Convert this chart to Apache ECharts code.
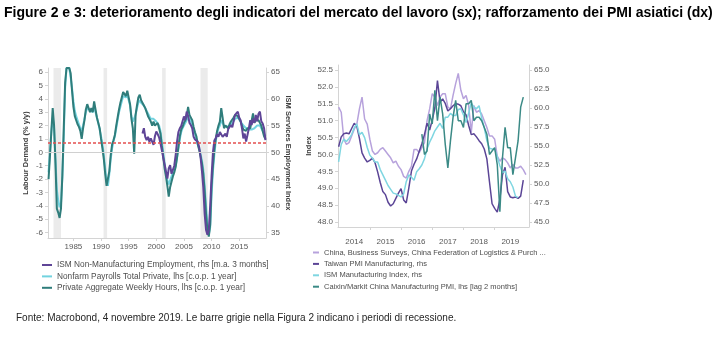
<!DOCTYPE html>
<html><head><meta charset="utf-8">
<script src="https://cdn.jsdelivr.net/npm/echarts@6/dist/echarts.min.js"></script>
<style>html,body{margin:0;padding:0;background:#fff}#c{width:719px;height:337px}</style>
</head><body><div id="c"></div>
<script>
// ---------- Figure 2 (left): quarterly grid starting 1980.5 ----------
const leftStart = 1980.5;
const leftStep = 0.25;
const weeklyHours = [
 -2.0,-0.3,
 1.5,3.3,2.0,-0.8,  -4.2,-4.5,-4.9,-4.2,  -1.7,1.8,5.2,6.3,  6.3,6.3,5.9,4.6,
 3.4,2.7,2.4,2.1,  1.9,1.6,1.0,1.8,  2.4,3.2,3.6,3.5,  3.0,3.3,3.0,3.8,
 3.2,2.6,2.2,1.8,  1.0,0.3,-0.5,-1.6,  -2.5,-2.4,-1.4,-0.2,  0.6,0.9,1.3,2.0,
 2.6,3.2,3.7,4.1,  4.5,4.5,4.2,4.6,  4.5,3.6,2.5,1.8,  -0.1,2.8,3.5,4.1,
 4.3,3.9,3.8,3.5,  3.3,3.0,2.7,2.5,  2.3,2.0,2.3,2.0,  1.9,2.2,1.8,1.4,
 0.5,-0.3,-1.2,-1.8,  -2.5,-3.3,-2.6,-2.2,  -1.8,-1.5,-1.1,-0.4,  0.4,1.2,1.7,1.9,
 2.2,2.4,2.7,3.4,  2.8,2.7,2.4,1.9,  1.5,1.2,0.6,0.2,  -0.3,-0.8,-1.6,-2.9,
 -4.6,-5.8,-6.3,-5.4,  -2.5,-1.0,0.2,1.0,  1.6,2.0,2.3,3.3,  2.6,1.8,2.0,1.9,
 1.8,2.1,2.3,2.4,  2.6,2.8,2.9,2.7,  2.5,2.3,2.0,1.7,  1.8,1.6,1.8,1.7,
 1.8,1.9,2.9,2.2,  2.4,2.5,2.4,2.2,  2.0,1.6,1.2,1.0
];
const payrolls = [
 -1.5,0.0,
 1.5,2.6,1.8,-0.5,  -2.8,-3.6,-4.1,-3.8,  -1.8,1.2,4.8,6.3,  6.3,6.3,5.6,4.8,
 3.8,3.1,2.7,2.4,  2.1,1.8,1.6,2.0,  2.5,3.0,3.3,3.4,  3.2,3.1,3.0,3.4,
 3.0,2.6,2.2,1.7,  1.2,0.6,-0.2,-1.2,  -2.2,-2.5,-1.6,-0.5,  0.3,0.8,1.2,1.8,
 2.4,3.0,3.4,3.8,  4.2,4.3,4.1,4.3,  4.2,3.5,2.7,2.3,  2.3,2.8,3.3,3.7,
 3.9,3.7,3.6,3.5,  3.3,3.1,2.9,2.7,  2.5,2.4,2.5,2.4,  2.3,2.3,2.0,1.6,
 0.8,0.0,-0.8,-1.6,  -2.1,-2.4,-2.1,-1.8,  -1.5,-1.3,-1.0,-0.4,  0.3,1.0,1.5,1.8,
 2.0,2.2,2.4,2.7,  2.5,2.3,2.1,1.7,  1.4,1.0,0.6,0.3,  -0.1,-0.6,-1.3,-2.5,
 -4.0,-5.4,-6.1,-5.6,  -3.2,-1.4,-0.2,0.8,  1.4,1.8,2.0,2.4,  2.3,2.0,1.9,1.9,
 1.9,2.0,2.1,2.2,  2.3,2.5,2.6,2.6,  2.5,2.3,2.2,2.0,  1.9,1.8,1.8,1.7,
 1.7,1.7,1.8,1.8,  1.9,2.0,2.0,2.0,  1.8,1.6,1.4,1.2
];
const ismServicesStart = 1997.5;
const ismServices = [
 53.5,54.5,
 52.9,52.3,52.9,52.0,  52.6,52.0,51.4,53.0,  53.9,53.4,52.8,51.7,  50.4,49.0,47.8,46.4,
 45.1,47.0,47.6,46.0,  46.3,47.5,49.5,52.0,  53.8,54.5,54.9,55.8,  56.7,56.0,57.6,56.8,
 55.5,55.1,54.5,52.9,  52.4,52.2,52.0,51.0,  49.2,46.6,43.5,38.5,  35.5,34.6,35.5,40.0,
 45.5,50.0,52.2,52.6,  53.4,52.9,53.8,53.7,  52.9,52.6,53.5,52.9,  54.3,54.2,55.1,54.7,
 54.5,57.0,56.7,57.6,  56.5,56.0,54.5,52.6,  53.5,52.0,52.3,54.5,  56.0,55.1,56.3,55.5,
 57.0,55.8,57.2,57.6,  55.8,55.4,54.5,52.3
];
const recessions = [[1981.4,1982.75],[1990.45,1991.1],[2001.05,2001.7],[2008.0,2009.3]];
const leftYearLabels = [1985,1990,1995,2000,2005,2010,2015];
const leftLhsTicks = [-6,-5,-4,-3,-2,-1,0,1,2,3,4,5,6];
const leftRhsTicks = [35,40,45,50,55,60,65];
const thresholdLine = 0.7;

// ---------- Figure 3 (right): monthly grid starting 2014 ----------
const rightStart = 2014;
const chinaNBS = [
 51.4,51.25,50.45,50.3,50.35,50.55,50.75,50.9,51.35,51.7,
 51.05,50.9,50.45,50.1,50.0,50.05,50.15,50.2,50.1,50.0,
 49.9,49.75,49.8,49.65,49.55,49.35,49.3,49.5,49.65,50.15,
 50.15,50.05,50.2,50.35,51.0,51.35,51.8,51.7,51.45,51.7,
 51.8,51.8,51.4,51.35,51.75,52.1,52.4,51.9,51.65,51.75,
 51.45,50.65,51.45,51.25,51.3,51.2,51.0,50.8,50.55,50.55,
 50.45,49.95,49.8,49.9,49.85,49.75,49.6,49.7,49.6,49.6,
 49.65,49.55,49.4
];
const taiwanPMI = [
 54.9,56.2,56.6,56.7,56.6,57.3,58.0,57.6,56.0,54.1,
 53.4,52.9,53.1,53.4,52.8,51.6,50.2,49.0,48.6,47.6,
 47.1,47.4,48.1,48.8,49.4,47.9,47.5,49.5,51.7,52.6,
 53.3,54.3,55.3,56.5,58.0,57.1,58.4,60.0,63.6,60.8,
 61.2,60.6,59.6,59.9,60.3,60.6,60.5,60.3,59.5,59.1,
 57.7,56.5,56.6,56.2,55.7,55.3,54.6,53.3,50.3,47.4,
 46.8,46.3,48.0,51.2,52.2,49.0,48.3,48.2,48.3,48.1,
 48.4,50.5
];
const ismMfg = [
 52.9,55.2,55.9,55.6,56.0,56.5,57.4,57.9,56.5,56.8,
 56.1,54.8,53.8,53.4,52.9,52.9,51.9,51.2,50.5,49.8,
 49.3,48.8,48.7,48.5,48.3,48.7,50.3,51.2,50.9,50.5,
 51.6,52.0,52.5,53.3,54.6,55.5,56.2,57.0,57.5,58.0,
 57.3,58.8,58.8,59.3,59.0,59.0,59.8,59.9,59.1,58.1,
 59.3,60.7,60.1,59.9,60.3,58.7,57.4,55.7,54.7,54.6,
 54.6,53.6,52.4,51.5,51.7,50.7,50.3,49.6,48.4,48.2
];
const caixinStartIndex = 32;
const caixin = [
 50.6,50.0,50.1,51.2,50.9,51.9,51.0,51.7,51.2,50.3,
 49.6,50.4,51.1,51.6,51.0,51.0,50.8,51.5,51.5,51.6,
 51.0,51.1,51.1,51.0,50.8,50.6,50.0,50.1,50.2,49.7,
 48.3,49.9,50.8,50.2,50.2,49.4,49.9,50.4,51.4,51.7
];
const rightYearLabels = [2014,2015,2016,2017,2018,2019];
const rightLhsTicks = [48,48.5,49,49.5,50,50.5,51,51.5,52,52.5];
const rightRhsTicks = [45,47.5,50,52.5,55,57.5,60,62.5,65];

const names = {
  ismS: 'ISM Non-Manufacturing Employment, rhs [m.a. 3 months]',
  nfp: 'Nonfarm Payrolls Total Private, lhs [c.o.p. 1 year]',
  hours: 'Private Aggregate Weekly Hours, lhs [c.o.p. 1 year]',
  nbs: 'China, Business Surveys, China Federation of Logistics & Purch ...',
  tw: 'Taiwan PMI Manufacturing, rhs',
  ismM: 'ISM Manufacturing Index, rhs',
  cx: 'Caixin/Markit China Manufacturing PMI, lhs [lag 2 months]'
};
const titleText = 'Figure 2 e 3: deterioramento degli indicatori del mercato del lavoro (sx); rafforzamento dei PMI asiatici (dx)';
const sourceText = 'Fonte: Macrobond, 4 novembre 2019. Le barre grigie nella Figura 2 indicano i periodi di recessione.';

// ---------- build ----------
const qPairs = (arr, start) => arr.map((v, i) => [start + i * leftStep, v]);
const mPairs = (arr, offset) => arr.map((v, i) => [rightStart + (i + offset) / 12, v]);

const axisGrey = '#d4d4d4';
const labelGrey = '#595959';
const labelFont = 'Liberation Sans';
const refRed = '#e34f4f';

function yAx(grid, pos, min, max, ticks, extra) {
  return Object.assign({
    type: 'value', gridIndex: grid, position: pos, min: min, max: max,
    splitLine: {show: false},
    axisLine: {show: true, lineStyle: {color: axisGrey}},
    axisTick: {show: true, length: 3, customValues: ticks, lineStyle: {color: axisGrey}},
    nameLocation: 'middle',
    nameTextStyle: {fontSize: 7.5, fontWeight: 'bold', color: '#404040', fontFamily: labelFont}
  }, extra);
}
const lbl = (ticks, fmt) => ({customValues: ticks, fontSize: 8, color: labelGrey, fontFamily: labelFont, margin: 5, formatter: fmt});

const chart = echarts.init(document.getElementById('c'), null, {renderer: 'canvas'});
chart.setOption({
  animation: false,
  backgroundColor: '#fff',
  graphic: [
    {type: 'text', left: 4, top: 6, style: {text: titleText, font: 'bold 14px "Liberation Sans Narrow", "Liberation Sans", sans-serif', fill: '#000'}},
    {type: 'text', left: 16, top: 313, style: {text: sourceText, font: '10px "Liberation Sans", Arial, sans-serif', fill: '#262626'}}
  ],
  grid: [
    {left: 48, top: 68, width: 218, height: 170},
    {left: 338, top: 65, width: 191, height: 162}
  ],
  xAxis: [
    {type: 'value', gridIndex: 0, min: 1980.4, max: 2019.85, splitLine: {show: false},
     axisLine: {show: true, onZero: false, lineStyle: {color: axisGrey}},
     axisTick: {show: true, length: 3, customValues: leftYearLabels, lineStyle: {color: axisGrey}},
     axisLabel: lbl(leftYearLabels, v => String(Math.round(v)))},
    {type: 'value', gridIndex: 1, min: 2013.98, max: 2020.1, splitLine: {show: false},
     axisLine: {show: true, onZero: false, lineStyle: {color: axisGrey}},
     axisTick: {show: true, length: 3, customValues: rightYearLabels.slice(1), lineStyle: {color: axisGrey}},
     axisLabel: Object.assign(lbl(rightYearLabels.map(y => y + 0.5), v => String(Math.floor(v))), {margin: 11})}
  ],
  yAxis: [
    yAx(0, 'left', -6.4, 6.3, leftLhsTicks, {name: 'Labour Demand (% y/y)', nameGap: 18, nameRotate: 90,
      axisLabel: lbl(leftLhsTicks, v => String(Math.round(v)))}),
    yAx(0, 'right', 34, 65.75, leftRhsTicks, {name: 'ISM Services Employment Index', nameGap: 18, nameRotate: -90,
      axisLabel: lbl(leftRhsTicks, v => String(Math.round(v)))}),
    yAx(1, 'left', 47.85, 52.65, rightLhsTicks, {name: 'Index', nameGap: 25, nameRotate: 90,
      axisLabel: lbl(rightLhsTicks, v => v.toFixed(1))}),
    yAx(1, 'right', 44.34, 65.66, rightRhsTicks, {
      axisLabel: lbl(rightRhsTicks, v => v.toFixed(1))})
  ],
  legend: [
    {data: [names.ismS, names.nfp, names.hours], orient: 'vertical', left: 42, top: 260.5, padding: 0,
     icon: 'rect', itemWidth: 10, itemHeight: 2, itemGap: 2.4, selectedMode: false,
     textStyle: {fontSize: 8.3, color: '#4d4d4d', fontFamily: labelFont, lineHeight: 9}},
    {data: [names.nbs, names.tw, names.ismM, names.cx], orient: 'vertical', left: 313, top: 248, padding: 0,
     icon: 'rect', itemWidth: 6, itemHeight: 2, itemGap: 2.4, selectedMode: false,
     textStyle: {fontSize: 7.5, color: '#4d4d4d', fontFamily: labelFont, lineHeight: 9}}
  ],
  series: [
    {type: 'line', name: 'bands', xAxisIndex: 0, yAxisIndex: 0, data: [], silent: true,
     markArea: {silent: true, itemStyle: {color: '#ebebeb'},
       data: recessions.map(r => [{xAxis: r[0]}, {xAxis: r[1]}])},
     markLine: {silent: true, symbol: 'none', label: {show: false},
       lineStyle: {color: '#d0d0d0', width: 1, type: 'solid'},
       data: [{yAxis: 0}]}},
    {type: 'line', name: 'threshold', xAxisIndex: 0, yAxisIndex: 0, data: [], silent: true,
     color: refRed,
     markLine: {silent: true, symbol: 'none', label: {show: false},
       lineStyle: {color: refRed, width: 1.5, type: [3, 2], opacity: 1},
       data: [{yAxis: thresholdLine, lineStyle: {color: refRed}}]}},
    {type: 'line', name: names.nfp, xAxisIndex: 0, yAxisIndex: 0, data: qPairs(payrolls, leftStart),
     showSymbol: false, color: '#72d3df', lineStyle: {width: 2}},
    {type: 'line', name: names.hours, xAxisIndex: 0, yAxisIndex: 0, data: qPairs(weeklyHours, leftStart),
     showSymbol: false, color: '#2f7d7b', lineStyle: {width: 2}},
    {type: 'line', name: names.ismS, xAxisIndex: 0, yAxisIndex: 1, data: qPairs(ismServices, ismServicesStart),
     showSymbol: false, color: '#5f4597', lineStyle: {width: 2}},

    {type: 'line', name: names.nbs, xAxisIndex: 1, yAxisIndex: 2, data: mPairs(chinaNBS, 0),
     showSymbol: false, color: '#b7a2dc', lineStyle: {width: 1.5}},
    {type: 'line', name: names.tw, xAxisIndex: 1, yAxisIndex: 3, data: mPairs(taiwanPMI, 0),
     showSymbol: false, color: '#5b4596', lineStyle: {width: 1.5}},
    {type: 'line', name: names.ismM, xAxisIndex: 1, yAxisIndex: 3, data: mPairs(ismMfg, 0),
     showSymbol: false, color: '#7fd6e1', lineStyle: {width: 1.5}},
    {type: 'line', name: names.cx, xAxisIndex: 1, yAxisIndex: 2, data: mPairs(caixin, caixinStartIndex),
     showSymbol: false, color: '#3b8a86', lineStyle: {width: 1.5}}
  ]
});
</script></body></html>
